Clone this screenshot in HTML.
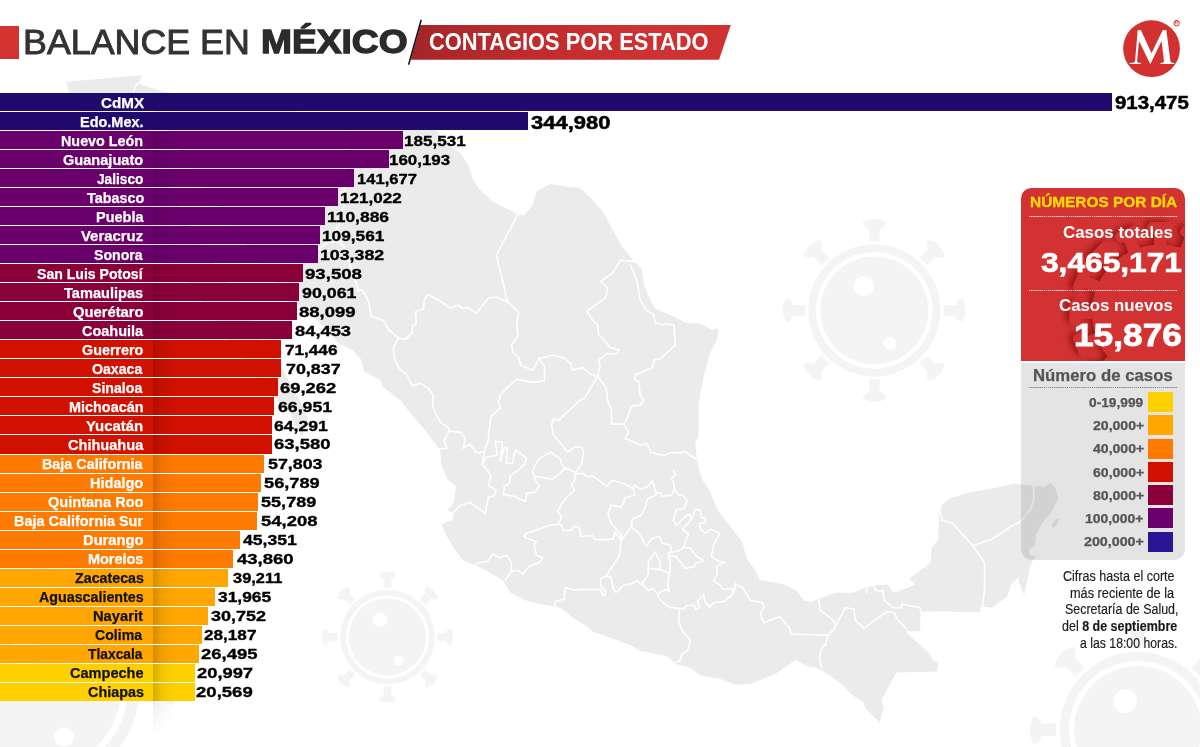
<!DOCTYPE html>
<html lang="es">
<head>
<meta charset="utf-8">
<title>Balance en México - Contagios por estado</title>
<style>
html,body{margin:0;padding:0;background:#fff;}
body{width:1200px;height:747px;position:relative;overflow:hidden;font-family:"Liberation Sans",sans-serif;}
.abs{position:absolute;}
.t{position:absolute;white-space:nowrap;line-height:1;transform-origin:0 0;}
.bar{position:absolute;left:0;height:18.1px;}
#map{position:absolute;left:0;top:0;width:1200px;height:747px;}
#shadow{position:absolute;left:153px;top:701px;width:22px;height:34px;
  background:linear-gradient(to right,rgba(0,0,0,.075),rgba(0,0,0,.03) 45%,rgba(0,0,0,0));
  -webkit-mask-image:linear-gradient(to bottom,#000 0,transparent 100%);
  mask-image:linear-gradient(to bottom,#000 0,transparent 100%);}
#redsq{position:absolute;left:0;top:26px;width:19.3px;height:32.8px;background:#d3322f;}
#banner{position:absolute;left:0;top:0;width:1200px;height:90px;}
#panelred{position:absolute;left:1021px;top:188.3px;width:164px;height:172.5px;background:#d33232;border-radius:10.5px 10.5px 0 0;overflow:hidden;}
#panelgrey{position:absolute;left:1021px;top:362.7px;width:164px;height:197.5px;background:rgba(0,0,0,.105);border-radius:0 0 11px 11px;}
.dots{position:absolute;height:1.3px;background:radial-gradient(circle at .65px .65px,rgba(255,255,255,.8) .5px,rgba(255,255,255,0) .7px) 0 0/2.1px 1.3px repeat-x;}
.sw{position:absolute;left:1147.9px;width:24.7px;height:20px;}
</style>
</head>
<body>
<svg id="map" viewBox="0 0 1200 747">
<g id="viruses" fill="#f4f4f4"><g transform="translate(874.3 310.4) scale(1)"><path fill-rule="evenodd" d="M0,-66.1A66.1,66.1 0 1 0 0,66.1A66.1,66.1 0 1 0 0,-66.1ZM0,-58.3A58.3,58.3 0 1 1 0,58.3A58.3,58.3 0 1 1 0,-58.3Z"/><path fill-rule="evenodd" d="M0,-54A54,54 0 1 0 0,54A54,54 0 1 0 0,-54ZM-0.6,-24.1A10,10 0 1 1 -20.6,-24.1A10,10 0 1 1 -0.6,-24.1ZM22.1,33A6.5,6.5 0 1 1 9.1,33A6.5,6.5 0 1 1 22.1,33Z"/><path transform="rotate(0)" d="M-5.3,-69.2L5.3,-69.2L5.3,-81Q11.5,-83.5 11.6,-88.5Q6,-91.6 0,-91.6Q-6,-91.6 -11.6,-88.5Q-11.5,-83.5 -5.3,-81Z"/><path transform="rotate(45)" d="M-5.3,-69.2L5.3,-69.2L5.3,-81Q11.5,-83.5 11.6,-88.5Q6,-91.6 0,-91.6Q-6,-91.6 -11.6,-88.5Q-11.5,-83.5 -5.3,-81Z"/><path transform="rotate(90)" d="M-5.3,-69.2L5.3,-69.2L5.3,-81Q11.5,-83.5 11.6,-88.5Q6,-91.6 0,-91.6Q-6,-91.6 -11.6,-88.5Q-11.5,-83.5 -5.3,-81Z"/><path transform="rotate(135)" d="M-5.3,-69.2L5.3,-69.2L5.3,-81Q11.5,-83.5 11.6,-88.5Q6,-91.6 0,-91.6Q-6,-91.6 -11.6,-88.5Q-11.5,-83.5 -5.3,-81Z"/><path transform="rotate(180)" d="M-5.3,-69.2L5.3,-69.2L5.3,-81Q11.5,-83.5 11.6,-88.5Q6,-91.6 0,-91.6Q-6,-91.6 -11.6,-88.5Q-11.5,-83.5 -5.3,-81Z"/><path transform="rotate(225)" d="M-5.3,-69.2L5.3,-69.2L5.3,-81Q11.5,-83.5 11.6,-88.5Q6,-91.6 0,-91.6Q-6,-91.6 -11.6,-88.5Q-11.5,-83.5 -5.3,-81Z"/><path transform="rotate(270)" d="M-5.3,-69.2L5.3,-69.2L5.3,-81Q11.5,-83.5 11.6,-88.5Q6,-91.6 0,-91.6Q-6,-91.6 -11.6,-88.5Q-11.5,-83.5 -5.3,-81Z"/><path transform="rotate(315)" d="M-5.3,-69.2L5.3,-69.2L5.3,-81Q11.5,-83.5 11.6,-88.5Q6,-91.6 0,-91.6Q-6,-91.6 -11.6,-88.5Q-11.5,-83.5 -5.3,-81Z"/></g><g transform="translate(387.5 637) scale(0.715)"><path fill-rule="evenodd" d="M0,-66.1A66.1,66.1 0 1 0 0,66.1A66.1,66.1 0 1 0 0,-66.1ZM0,-58.3A58.3,58.3 0 1 1 0,58.3A58.3,58.3 0 1 1 0,-58.3Z"/><path fill-rule="evenodd" d="M0,-54A54,54 0 1 0 0,54A54,54 0 1 0 0,-54ZM-0.6,-24.1A10,10 0 1 1 -20.6,-24.1A10,10 0 1 1 -0.6,-24.1ZM22.1,33A6.5,6.5 0 1 1 9.1,33A6.5,6.5 0 1 1 22.1,33Z"/><path transform="rotate(0)" d="M-5.3,-69.2L5.3,-69.2L5.3,-81Q11.5,-83.5 11.6,-88.5Q6,-91.6 0,-91.6Q-6,-91.6 -11.6,-88.5Q-11.5,-83.5 -5.3,-81Z"/><path transform="rotate(45)" d="M-5.3,-69.2L5.3,-69.2L5.3,-81Q11.5,-83.5 11.6,-88.5Q6,-91.6 0,-91.6Q-6,-91.6 -11.6,-88.5Q-11.5,-83.5 -5.3,-81Z"/><path transform="rotate(90)" d="M-5.3,-69.2L5.3,-69.2L5.3,-81Q11.5,-83.5 11.6,-88.5Q6,-91.6 0,-91.6Q-6,-91.6 -11.6,-88.5Q-11.5,-83.5 -5.3,-81Z"/><path transform="rotate(135)" d="M-5.3,-69.2L5.3,-69.2L5.3,-81Q11.5,-83.5 11.6,-88.5Q6,-91.6 0,-91.6Q-6,-91.6 -11.6,-88.5Q-11.5,-83.5 -5.3,-81Z"/><path transform="rotate(180)" d="M-5.3,-69.2L5.3,-69.2L5.3,-81Q11.5,-83.5 11.6,-88.5Q6,-91.6 0,-91.6Q-6,-91.6 -11.6,-88.5Q-11.5,-83.5 -5.3,-81Z"/><path transform="rotate(225)" d="M-5.3,-69.2L5.3,-69.2L5.3,-81Q11.5,-83.5 11.6,-88.5Q6,-91.6 0,-91.6Q-6,-91.6 -11.6,-88.5Q-11.5,-83.5 -5.3,-81Z"/><path transform="rotate(270)" d="M-5.3,-69.2L5.3,-69.2L5.3,-81Q11.5,-83.5 11.6,-88.5Q6,-91.6 0,-91.6Q-6,-91.6 -11.6,-88.5Q-11.5,-83.5 -5.3,-81Z"/><path transform="rotate(315)" d="M-5.3,-69.2L5.3,-69.2L5.3,-81Q11.5,-83.5 11.6,-88.5Q6,-91.6 0,-91.6Q-6,-91.6 -11.6,-88.5Q-11.5,-83.5 -5.3,-81Z"/></g><g transform="translate(1137.8 729.7) scale(1.18)"><path fill-rule="evenodd" d="M0,-66.1A66.1,66.1 0 1 0 0,66.1A66.1,66.1 0 1 0 0,-66.1ZM0,-58.3A58.3,58.3 0 1 1 0,58.3A58.3,58.3 0 1 1 0,-58.3Z"/><path fill-rule="evenodd" d="M0,-54A54,54 0 1 0 0,54A54,54 0 1 0 0,-54ZM-0.6,-24.1A10,10 0 1 1 -20.6,-24.1A10,10 0 1 1 -0.6,-24.1ZM22.1,33A6.5,6.5 0 1 1 9.1,33A6.5,6.5 0 1 1 22.1,33Z"/><path transform="rotate(0)" d="M-5.3,-69.2L5.3,-69.2L5.3,-81Q11.5,-83.5 11.6,-88.5Q6,-91.6 0,-91.6Q-6,-91.6 -11.6,-88.5Q-11.5,-83.5 -5.3,-81Z"/><path transform="rotate(45)" d="M-5.3,-69.2L5.3,-69.2L5.3,-81Q11.5,-83.5 11.6,-88.5Q6,-91.6 0,-91.6Q-6,-91.6 -11.6,-88.5Q-11.5,-83.5 -5.3,-81Z"/><path transform="rotate(90)" d="M-5.3,-69.2L5.3,-69.2L5.3,-81Q11.5,-83.5 11.6,-88.5Q6,-91.6 0,-91.6Q-6,-91.6 -11.6,-88.5Q-11.5,-83.5 -5.3,-81Z"/><path transform="rotate(135)" d="M-5.3,-69.2L5.3,-69.2L5.3,-81Q11.5,-83.5 11.6,-88.5Q6,-91.6 0,-91.6Q-6,-91.6 -11.6,-88.5Q-11.5,-83.5 -5.3,-81Z"/><path transform="rotate(180)" d="M-5.3,-69.2L5.3,-69.2L5.3,-81Q11.5,-83.5 11.6,-88.5Q6,-91.6 0,-91.6Q-6,-91.6 -11.6,-88.5Q-11.5,-83.5 -5.3,-81Z"/><path transform="rotate(225)" d="M-5.3,-69.2L5.3,-69.2L5.3,-81Q11.5,-83.5 11.6,-88.5Q6,-91.6 0,-91.6Q-6,-91.6 -11.6,-88.5Q-11.5,-83.5 -5.3,-81Z"/><path transform="rotate(270)" d="M-5.3,-69.2L5.3,-69.2L5.3,-81Q11.5,-83.5 11.6,-88.5Q6,-91.6 0,-91.6Q-6,-91.6 -11.6,-88.5Q-11.5,-83.5 -5.3,-81Z"/><path transform="rotate(315)" d="M-5.3,-69.2L5.3,-69.2L5.3,-81Q11.5,-83.5 11.6,-88.5Q6,-91.6 0,-91.6Q-6,-91.6 -11.6,-88.5Q-11.5,-83.5 -5.3,-81Z"/></g><g transform="translate(40.6 687.5) scale(1.5)"><path fill-rule="evenodd" d="M0,-66.1A66.1,66.1 0 1 0 0,66.1A66.1,66.1 0 1 0 0,-66.1ZM0,-58.3A58.3,58.3 0 1 1 0,58.3A58.3,58.3 0 1 1 0,-58.3Z"/><path fill-rule="evenodd" d="M0,-54A54,54 0 1 0 0,54A54,54 0 1 0 0,-54ZM-0.6,-24.1A10,10 0 1 1 -20.6,-24.1A10,10 0 1 1 -0.6,-24.1ZM22.1,33A6.5,6.5 0 1 1 9.1,33A6.5,6.5 0 1 1 22.1,33Z"/><path transform="rotate(0)" d="M-5.3,-69.2L5.3,-69.2L5.3,-81Q11.5,-83.5 11.6,-88.5Q6,-91.6 0,-91.6Q-6,-91.6 -11.6,-88.5Q-11.5,-83.5 -5.3,-81Z"/><path transform="rotate(45)" d="M-5.3,-69.2L5.3,-69.2L5.3,-81Q11.5,-83.5 11.6,-88.5Q6,-91.6 0,-91.6Q-6,-91.6 -11.6,-88.5Q-11.5,-83.5 -5.3,-81Z"/><path transform="rotate(90)" d="M-5.3,-69.2L5.3,-69.2L5.3,-81Q11.5,-83.5 11.6,-88.5Q6,-91.6 0,-91.6Q-6,-91.6 -11.6,-88.5Q-11.5,-83.5 -5.3,-81Z"/><path transform="rotate(135)" d="M-5.3,-69.2L5.3,-69.2L5.3,-81Q11.5,-83.5 11.6,-88.5Q6,-91.6 0,-91.6Q-6,-91.6 -11.6,-88.5Q-11.5,-83.5 -5.3,-81Z"/><path transform="rotate(180)" d="M-5.3,-69.2L5.3,-69.2L5.3,-81Q11.5,-83.5 11.6,-88.5Q6,-91.6 0,-91.6Q-6,-91.6 -11.6,-88.5Q-11.5,-83.5 -5.3,-81Z"/><path transform="rotate(225)" d="M-5.3,-69.2L5.3,-69.2L5.3,-81Q11.5,-83.5 11.6,-88.5Q6,-91.6 0,-91.6Q-6,-91.6 -11.6,-88.5Q-11.5,-83.5 -5.3,-81Z"/><path transform="rotate(270)" d="M-5.3,-69.2L5.3,-69.2L5.3,-81Q11.5,-83.5 11.6,-88.5Q6,-91.6 0,-91.6Q-6,-91.6 -11.6,-88.5Q-11.5,-83.5 -5.3,-81Z"/><path transform="rotate(315)" d="M-5.3,-69.2L5.3,-69.2L5.3,-81Q11.5,-83.5 11.6,-88.5Q6,-91.6 0,-91.6Q-6,-91.6 -11.6,-88.5Q-11.5,-83.5 -5.3,-81Z"/></g></g>
<polygon points="65.8,81.7 142.0,75.3 140.0,80.8 137.0,83.3 164.0,91.7 300.0,112.0 434.0,128.0 450.3,147.1 460.3,153.1 465.3,160.2 468.9,166.3 472.6,178.8 480.1,190.1 492.7,201.4 507.7,208.9 517.7,214.7 524.0,215.2 532.7,205.1 536.5,191.4 550.3,183.9 565.3,186.4 579.1,187.6 590.3,197.6 602.9,211.4 612.9,230.2 622.9,247.7 634.2,261.5 641.7,269.0 644.2,285.3 650.4,300.3 655.2,308.8 667.7,313.8 685.2,322.5 700.2,323.8 712.8,330.0 718.3,328.0 717.8,337.6 710.3,352.6 704.0,375.1 700.2,395.2 698.5,405.2 698.5,425.2 698.5,436.5 695.2,442.8 696.5,455.3 699.0,470.3 702.5,480.0 710.0,491.3 717.6,510.0 730.1,526.3 742.6,542.6 746.4,557.7 755.1,570.2 760.1,580.2 782.7,584.0 796.5,590.2 804.0,600.2 810.2,602.0 835.3,592.7 852.8,592.7 865.3,587.7 875.3,585.2 887.9,584.4 892.9,592.7 905.4,589.0 915.4,584.0 909.2,579.0 920.4,570.2 930.4,562.7 931.7,547.6 938.0,540.1 939.2,515.1 941.8,505.0 949.3,498.5 970.7,492.1 996.4,487.8 1015.6,483.6 1033.8,486.1 1045.6,486.8 1049.9,482.5 1055.2,487.8 1058.0,498.5 1052.0,511.4 1041.3,524.2 1036.0,534.9 1034.9,545.7 1028.5,549.9 1030.6,555.3 1037.0,556.4 1032.8,560.6 1030.6,564.9 1028.5,573.5 1024.2,594.9 1018.8,582.0 1018.8,576.7 1011.3,584.2 1007.0,597.0 992.0,607.8 982.4,606.7 980.7,606.3 980.2,612.1 920.6,611.3 920.1,631.3 906.3,631.3 907.6,633.8 920.1,645.1 930.1,653.9 932.6,660.1 938.1,662.6 937.6,671.4 896.3,672.6 881.3,700.2 883.8,707.7 881.3,715.2 880.0,722.7 865.0,707.7 863.8,702.7 852.5,695.2 843.0,685.2 828.0,674.0 815.5,667.2 807.9,666.4 795.4,660.2 787.9,665.2 775.4,674.0 750.3,684.0 735.3,684.5 720.3,679.0 700.2,675.2 690.2,667.7 675.2,663.9 667.7,656.4 640.1,650.7 627.6,643.9 592.6,631.4 587.8,627.0 572.8,617.8 560.3,607.8 540.2,604.0 525.2,600.3 510.2,592.8 502.7,580.2 487.7,571.5 475.1,565.2 462.6,560.2 453.8,547.7 446.3,535.2 441.3,523.9 452.6,520.1 453.8,513.9 447.6,510.1 453.8,502.6 456.3,486.3 447.6,480.1 441.3,465.0 440.1,450.0 432.6,440.0 425.2,430.2 410.2,412.7 400.2,400.2 382.6,386.4 380.1,380.1 363.9,371.4 361.4,360.1 352.6,350.1 337.6,342.6 317.0,320.0 290.0,300.0 250.0,250.0 200.0,180.0 160.0,120.0 140.0,95.0 150.0,150.0 170.0,190.0 190.0,230.0 215.0,265.0 240.0,300.0 258.0,335.0 280.0,365.0 297.0,395.0 308.0,418.0 302.0,437.0 289.0,412.0 262.0,385.0 240.0,355.0 215.0,320.0 190.0,285.0 150.0,250.0 140.0,215.0 110.0,180.0 100.0,140.0 72.0,100.0" fill="#ebebeb"/>
<ellipse cx="1055.2" cy="523.2" rx="2" ry="5" transform="rotate(35 1055.2 523.2)" fill="#ebebeb"/>
<g fill="none" stroke="#fff" stroke-width="1.6" stroke-linejoin="round" stroke-linecap="round">
<polyline points="137.0,83.3 133.3,91.7"/>
<polyline points="346.0,128.0 345.0,150.0 344.6,187.8 343.5,206.0 339.3,224.2 333.0,236.0 327.5,242.4 338.2,241.4 343.5,245.7 352.1,271.3 358.5,290.6 362.1,290.0"/>
<polyline points="327.5,242.4 318.0,250.0 305.0,262.0"/>
<polyline points="517.7,214.7 496.4,255.2 504.7,290.0 507.7,302.0"/>
<polyline points="362.1,290.0 368.2,300.0 371.2,316.1 384.2,321.1 388.2,329.2 398.3,338.2 405.3,339.2"/>
<polyline points="405.3,339.2 412.3,333.2 412.3,326.1 416.3,323.1 415.3,312.1 423.4,309.1 424.4,299.0 428.4,294.4 438.4,300.0 450.5,308.1 458.5,305.1 461.5,308.1 468.6,308.1 476.6,313.1 488.6,298.0 496.7,297.0 507.7,302.0"/>
<polyline points="507.7,302.0 518.8,312.1 516.7,324.1 517.8,336.2 511.7,344.2 512.7,352.2 518.8,358.3 520.8,365.3 532.8,370.3 538.8,358.3 552.9,355.3 564.9,358.3 570.0,363.3 571.3,365.1 572.5,370.1 582.5,367.6 590.1,373.9 597.6,376.4"/>
<polyline points="538.8,358.3 544.5,366.3 544.5,380.4 534.8,382.4 516.7,379.4 508.7,386.4 500.7,394.4 498.3,402.4 500.3,408.0 491.3,416.1 489.3,428.1 488.3,440.2 484.3,451.2 482.2,464.3"/>
<polyline points="398.3,338.2 393.3,348.2 394.3,358.3 399.3,368.3 406.3,374.3 412.3,385.4 420.4,383.4 428.4,388.4 433.4,395.4 432.4,404.5 435.1,412.0 440.1,422.1 449.1,428.1 449.1,431.1"/>
<polyline points="449.1,431.1 460.2,432.1 465.2,438.2 463.2,448.2 470.2,444.2 475.2,451.2 479.2,453.2 484.3,451.2"/>
<polyline points="449.1,431.1 444.1,440.2 447.1,448.2 440.1,449.2"/>
<polyline points="482.2,464.3 491.3,475.3 488.3,485.3 496.3,490.4 494.3,495.4 488.3,497.4 485.3,513.5 470.2,502.4 460.2,505.4 453.1,512.4"/>
<polyline points="482.2,464.3 486.3,457.2 497.3,455.2 495.3,441.2 502.3,442.2 500.3,461.2 504.3,447.2 507.3,448.2 506.3,463.3 512.4,463.3 515.4,449.8 526.4,458.2 524.4,464.3 519.4,469.3 510.4,475.3 509.4,483.3 504.3,486.3 503.3,494.4 514.4,496.4 525.4,501.4 526.4,493.4 534.5,492.4 539.5,486.3 535.5,480.3 534.5,476.3"/>
<polyline points="534.5,476.3 532.4,471.3 538.5,459.2 550.5,452.2 560.6,459.2 561.6,464.3 565.6,468.3 552.5,479.3 540.5,477.3 534.5,476.3"/>
<polyline points="560.0,419.0 558.6,420.1 553.5,419.1 551.5,425.1 553.5,435.1 560.6,443.2 567.6,452.2 574.6,447.2 581.6,447.2 583.7,452.2 581.6,464.3 575.6,472.3 565.6,468.3"/>
<polyline points="575.6,472.3 574.6,480.3 571.6,484.3 574.6,490.4 568.6,495.4 562.6,502.4 557.6,511.4 561.6,517.5 557.6,524.5"/>
<polyline points="575.6,474.3 583.7,473.3 585.7,476.3 593.7,476.3 606.7,486.3 611.8,480.3 622.8,483.3 632.9,488.4 633.2,488.1 634.2,485.1 640.2,489.1 647.3,487.1 652.3,481.0 656.3,493.1 660.3,493.1 662.3,496.1 671.4,495.1 674.4,489.1 673.4,482.0 671.4,479.0 675.4,475.0 673.4,470.0"/>
<polyline points="524.4,536.5 526.4,533.5 540.5,528.5 548.5,525.5 557.6,524.5 560.6,524.5 563.6,530.5 571.6,530.5 573.6,526.5 579.6,527.5 580.6,536.5 592.7,535.5 594.7,539.6 607.8,539.6 613.8,538.6 614.8,531.5 615.1,532.2 621.2,540.3"/>
<polyline points="633.2,488.1 635.2,495.1 625.2,498.1 621.2,507.1 611.1,505.1 608.1,513.2 611.1,523.2 617.1,530.2 621.2,534.3 621.2,540.3"/>
<polyline points="656.3,495.1 647.3,499.1 645.3,507.1 641.2,515.2 632.2,519.2 631.2,527.2 621.2,540.3"/>
<polyline points="674.4,489.1 678.4,495.1 682.4,495.1 687.4,501.1 683.4,509.2 676.4,509.2 673.4,520.2 676.4,525.2 684.4,517.2 689.4,514.2 691.4,519.2 682.4,529.2 688.4,534.3 683.4,547.3"/>
<polyline points="691.4,519.2 695.5,509.2 700.5,510.2 701.5,517.2 706.5,519.2 704.5,523.2 699.5,523.2 700.5,529.2 705.5,533.3 710.5,529.2 719.6,533.3 713.5,545.3 711.5,556.3 718.6,561.4 724.6,562.4 716.5,566.4 717.6,574.4 713.5,580.4 720.6,585.5 722.6,589.5 731.6,588.5 733.6,592.5 735.6,583.5"/>
<polyline points="621.2,540.3 619.2,556.3 615.1,562.4 606.1,576.4 601.1,578.4 600.1,584.5 605.1,590.5 605.1,595.5 602.1,594.5 601.1,589.5 594.1,589.5 580.0,589.5 575.3,590.3 565.3,587.8 564.0,599.0 555.3,601.5 555.3,606.5"/>
<polyline points="606.1,576.4 611.1,577.4 613.1,588.5 616.1,592.5 623.2,585.5 632.2,583.5 637.2,580.4 642.2,585.5"/>
<polyline points="631.2,527.2 639.2,533.3 646.3,546.3 652.3,538.3 659.3,536.3 662.3,543.3 670.4,545.3 671.4,551.3 668.4,553.3"/>
<polyline points="655.3,552.3 648.3,561.4 648.3,568.4 660.3,569.4 660.3,562.4 655.3,552.3"/>
<polyline points="648.3,568.4 648.3,574.4 642.2,583.5 648.3,590.5 652.3,588.5 657.3,593.5 666.3,589.5 669.4,591.5 667.3,583.5 669.4,575.4 668.4,572.4 660.3,569.4"/>
<polyline points="668.4,553.3 670.4,564.4 669.4,575.4"/>
<polyline points="668.4,553.3 680.4,550.3 683.4,547.3 690.4,548.3 696.5,556.3 703.5,560.4 695.5,563.4 694.5,566.4 685.4,568.4 678.4,559.4 675.4,556.3 668.4,556.3"/>
<polyline points="657.3,593.5 659.3,598.5 664.3,603.5 670.4,607.6 679.4,608.6 684.4,608.6 686.4,605.5 694.5,605.5 695.5,609.6 699.5,607.6 697.5,601.5 703.5,594.5 704.5,600.5 709.5,607.6 713.5,602.5 723.6,601.5 731.6,595.5 735.6,587.5"/>
<polyline points="679.4,608.6 679.0,622.6 682.7,631.4 690.2,640.1 687.7,650.2 681.5,655.2 680.2,660.2 675.2,662.7"/>
<polyline points="735.1,584.0 742.6,587.7 750.1,600.2 762.6,602.7 763.9,607.7 760.1,614.0 763.9,622.8 780.2,616.5 782.7,620.3 790.2,629.0 790.2,634.0 827.8,635.3"/>
<polyline points="828.0,635.1 825.5,645.1 821.7,647.7 819.2,657.7 821.7,667.7"/>
<polyline points="819.0,600.2 820.2,610.2 830.3,617.8 835.3,622.8 834.0,629.0 827.8,635.3"/>
<polyline points="834.0,629.0 845.3,607.7 854.0,609.0 855.3,620.3 864.1,628.3 877.8,617.8 887.9,611.5 894.1,612.7 897.9,620.3 904.1,626.5 907.9,631.5"/>
<polyline points="882.9,589.0 884.1,600.2 892.9,607.7 901.6,607.7 901.6,604.0 920.4,607.7 920.6,611.3"/>
<polyline points="874.1,585.2 875.3,590.2 882.9,591.5"/>
<polyline points="866.6,586.5 866.6,592.7"/>
<polyline points="475.1,565.2 478.9,562.7 487.7,561.5 492.7,554.0 500.2,557.7 506.4,555.2 511.4,562.7 511.4,571.5 505.2,580.2"/>
<polyline points="511.4,571.5 517.7,570.2 522.7,574.0 529.0,566.5 539.0,562.7 542.8,557.7 536.5,555.2 534.0,543.9 536.5,541.4 525.2,537.7 525.2,533.9 524.4,536.5"/>
<polyline points="634.2,261.5 620.4,260.2 612.9,272.8 600.4,281.5 607.9,287.8 605.4,297.8 586.6,311.3 592.6,320.0 597.6,325.0 598.8,335.1 606.3,342.6 610.1,347.6 618.9,350.1 616.3,353.8 606.3,353.8 598.8,360.1 600.1,365.1 597.6,376.4"/>
<polyline points="630.4,265.2 636.7,280.3 640.4,300.3 646.4,310.0 653.9,315.0 655.2,322.5 662.7,325.0 665.2,323.8 674.0,325.0 675.2,345.1 660.2,358.9 653.9,360.1 652.7,367.6 635.1,375.1 635.1,380.1 638.9,381.4 640.1,395.2 643.9,400.2 640.1,405.2 631.4,406.4 627.6,417.7 623.8,424.1"/>
<polyline points="597.6,376.4 606.3,387.7 607.6,400.2 611.3,410.2 611.8,424.1 623.8,424.1 628.8,432.1 624.8,438.2 640.9,445.2 646.9,443.2 650.9,452.2 663.9,455.8 670.2,452.8 680.2,452.8 685.2,451.5 690.2,455.3 696.5,459.0"/>
<polyline points="597.6,376.4 585.0,397.7 580.6,400.0 569.6,410.0 558.6,420.1"/>
<polyline points="940.7,512.5 941.8,520.0 952.5,523.2 972.8,545.7"/>
<polyline points="972.8,545.7 992.0,539.2 1011.3,526.4 1019.9,522.1 1030.6,509.3 1033.8,498.5 1033.8,486.1"/>
<polyline points="972.8,545.7 984.6,562.8 984.6,588.5 982.4,606.7"/>
</g>
</svg>
<div class="bar" style="top:93px;height:18.1px;width:1112.3px;background:linear-gradient(to right,rgba(0,0,0,0) 153px,rgba(0,0,0,0.06) 153px,rgba(0,0,0,0.021) 161px,rgba(0,0,0,0) 175px),#200a6e"></div>
<div class="bar" style="top:112px;height:18.1px;width:528.0px;background:linear-gradient(to right,rgba(0,0,0,0) 153px,rgba(0,0,0,0.06) 153px,rgba(0,0,0,0.021) 161px,rgba(0,0,0,0) 175px),#200a6e"></div>
<div class="bar" style="top:131px;height:18.1px;width:403.3px;background:linear-gradient(to right,rgba(0,0,0,0) 153px,rgba(0,0,0,0.09) 153px,rgba(0,0,0,0.032) 161px,rgba(0,0,0,0) 175px),#69006b"></div>
<div class="bar" style="top:150px;height:18.1px;width:389.0px;background:linear-gradient(to right,rgba(0,0,0,0) 153px,rgba(0,0,0,0.09) 153px,rgba(0,0,0,0.032) 161px,rgba(0,0,0,0) 175px),#69006b"></div>
<div class="bar" style="top:169px;height:18.1px;width:354.1px;background:linear-gradient(to right,rgba(0,0,0,0) 153px,rgba(0,0,0,0.09) 153px,rgba(0,0,0,0.032) 161px,rgba(0,0,0,0) 175px),#69006b"></div>
<div class="bar" style="top:188px;height:18.1px;width:338.2px;background:linear-gradient(to right,rgba(0,0,0,0) 153px,rgba(0,0,0,0.09) 153px,rgba(0,0,0,0.032) 161px,rgba(0,0,0,0) 175px),#69006b"></div>
<div class="bar" style="top:207px;height:18.1px;width:325.0px;background:linear-gradient(to right,rgba(0,0,0,0) 153px,rgba(0,0,0,0.09) 153px,rgba(0,0,0,0.032) 161px,rgba(0,0,0,0) 175px),#69006b"></div>
<div class="bar" style="top:226px;height:18.1px;width:320.2px;background:linear-gradient(to right,rgba(0,0,0,0) 153px,rgba(0,0,0,0.09) 153px,rgba(0,0,0,0.032) 161px,rgba(0,0,0,0) 175px),#69006b"></div>
<div class="bar" style="top:245px;height:18.1px;width:318.0px;background:linear-gradient(to right,rgba(0,0,0,0) 153px,rgba(0,0,0,0.09) 153px,rgba(0,0,0,0.032) 161px,rgba(0,0,0,0) 175px),#69006b"></div>
<div class="bar" style="top:264px;height:18.1px;width:303.1px;background:linear-gradient(to right,rgba(0,0,0,0) 153px,rgba(0,0,0,0.12) 153px,rgba(0,0,0,0.042) 161px,rgba(0,0,0,0) 175px),#8a0038"></div>
<div class="bar" style="top:283px;height:18.1px;width:298.8px;background:linear-gradient(to right,rgba(0,0,0,0) 153px,rgba(0,0,0,0.12) 153px,rgba(0,0,0,0.042) 161px,rgba(0,0,0,0) 175px),#8a0038"></div>
<div class="bar" style="top:302px;height:18.1px;width:296.8px;background:linear-gradient(to right,rgba(0,0,0,0) 153px,rgba(0,0,0,0.12) 153px,rgba(0,0,0,0.042) 161px,rgba(0,0,0,0) 175px),#8a0038"></div>
<div class="bar" style="top:321px;height:18.1px;width:292.0px;background:linear-gradient(to right,rgba(0,0,0,0) 153px,rgba(0,0,0,0.12) 153px,rgba(0,0,0,0.042) 161px,rgba(0,0,0,0) 175px),#8a0038"></div>
<div class="bar" style="top:340px;height:18.1px;width:281.2px;background:linear-gradient(to right,rgba(0,0,0,0) 153px,rgba(0,0,0,0.17) 153px,rgba(0,0,0,0.059) 161px,rgba(0,0,0,0) 175px),#d01100"></div>
<div class="bar" style="top:359px;height:18.1px;width:281.2px;background:linear-gradient(to right,rgba(0,0,0,0) 153px,rgba(0,0,0,0.17) 153px,rgba(0,0,0,0.059) 161px,rgba(0,0,0,0) 175px),#d01100"></div>
<div class="bar" style="top:378px;height:18.1px;width:277.8px;background:linear-gradient(to right,rgba(0,0,0,0) 153px,rgba(0,0,0,0.17) 153px,rgba(0,0,0,0.059) 161px,rgba(0,0,0,0) 175px),#d01100"></div>
<div class="bar" style="top:397px;height:18.1px;width:273.8px;background:linear-gradient(to right,rgba(0,0,0,0) 153px,rgba(0,0,0,0.17) 153px,rgba(0,0,0,0.059) 161px,rgba(0,0,0,0) 175px),#d01100"></div>
<div class="bar" style="top:416px;height:18.1px;width:272.0px;background:linear-gradient(to right,rgba(0,0,0,0) 153px,rgba(0,0,0,0.17) 153px,rgba(0,0,0,0.059) 161px,rgba(0,0,0,0) 175px),#d01100"></div>
<div class="bar" style="top:435px;height:19.1px;width:271.9px;background:linear-gradient(to right,rgba(0,0,0,0) 153px,rgba(0,0,0,0.17) 153px,rgba(0,0,0,0.059) 161px,rgba(0,0,0,0) 175px),#d01100"></div>
<div class="bar" style="top:455px;height:18.1px;width:263.9px;background:linear-gradient(to right,rgba(0,0,0,0) 153px,rgba(0,0,0,0.17) 153px,rgba(0,0,0,0.059) 161px,rgba(0,0,0,0) 175px),#ff7a00"></div>
<div class="bar" style="top:474px;height:18.1px;width:261.0px;background:linear-gradient(to right,rgba(0,0,0,0) 153px,rgba(0,0,0,0.17) 153px,rgba(0,0,0,0.059) 161px,rgba(0,0,0,0) 175px),#ff7a00"></div>
<div class="bar" style="top:493px;height:18.1px;width:258.0px;background:linear-gradient(to right,rgba(0,0,0,0) 153px,rgba(0,0,0,0.17) 153px,rgba(0,0,0,0.059) 161px,rgba(0,0,0,0) 175px),#ff7a00"></div>
<div class="bar" style="top:512px;height:18.1px;width:256.8px;background:linear-gradient(to right,rgba(0,0,0,0) 153px,rgba(0,0,0,0.17) 153px,rgba(0,0,0,0.059) 161px,rgba(0,0,0,0) 175px),#ff7a00"></div>
<div class="bar" style="top:531px;height:18.1px;width:239.8px;background:linear-gradient(to right,rgba(0,0,0,0) 153px,rgba(0,0,0,0.17) 153px,rgba(0,0,0,0.059) 161px,rgba(0,0,0,0) 175px),#ff7a00"></div>
<div class="bar" style="top:550px;height:18.1px;width:232.9px;background:linear-gradient(to right,rgba(0,0,0,0) 153px,rgba(0,0,0,0.17) 153px,rgba(0,0,0,0.059) 161px,rgba(0,0,0,0) 175px),#ff7a00"></div>
<div class="bar" style="top:569px;height:18.1px;width:228.0px;background:linear-gradient(to right,rgba(0,0,0,0) 153px,rgba(0,0,0,0.17) 153px,rgba(0,0,0,0.059) 161px,rgba(0,0,0,0) 175px),#ffa700"></div>
<div class="bar" style="top:588px;height:18.1px;width:214.8px;background:linear-gradient(to right,rgba(0,0,0,0) 153px,rgba(0,0,0,0.17) 153px,rgba(0,0,0,0.059) 161px,rgba(0,0,0,0) 175px),#ffa700"></div>
<div class="bar" style="top:607px;height:18.1px;width:207.6px;background:linear-gradient(to right,rgba(0,0,0,0) 153px,rgba(0,0,0,0.17) 153px,rgba(0,0,0,0.059) 161px,rgba(0,0,0,0) 175px),#ffa700"></div>
<div class="bar" style="top:626px;height:18.1px;width:202.4px;background:linear-gradient(to right,rgba(0,0,0,0) 153px,rgba(0,0,0,0.17) 153px,rgba(0,0,0,0.059) 161px,rgba(0,0,0,0) 175px),#ffa700"></div>
<div class="bar" style="top:645px;height:18.1px;width:198.8px;background:linear-gradient(to right,rgba(0,0,0,0) 153px,rgba(0,0,0,0.17) 153px,rgba(0,0,0,0.059) 161px,rgba(0,0,0,0) 175px),#ffa700"></div>
<div class="bar" style="top:664px;height:18.1px;width:194.9px;background:linear-gradient(to right,rgba(0,0,0,0) 153px,rgba(0,0,0,0.17) 153px,rgba(0,0,0,0.059) 161px,rgba(0,0,0,0) 175px),#ffd000"></div>
<div class="bar" style="top:683px;height:18.1px;width:194.9px;background:linear-gradient(to right,rgba(0,0,0,0) 153px,rgba(0,0,0,0.17) 153px,rgba(0,0,0,0.059) 161px,rgba(0,0,0,0) 175px),#ffd000"></div>
<div id="shadow"></div>
<div id="redsq"></div>
<svg id="banner" viewBox="0 0 1200 90">
  <defs><linearGradient id="bg" x1="0" x2="1" y1="0" y2="0"><stop offset="0" stop-color="#a42528"/><stop offset=".4" stop-color="#c12c2e"/><stop offset=".7" stop-color="#cd3131"/><stop offset="1" stop-color="#d03232"/></linearGradient></defs>
  <polygon points="420.3,24.9 730.8,24.9 719,59.8 410.7,59.8" fill="url(#bg)"/>
  <line x1="421.2" y1="19.8" x2="408.6" y2="64.8" stroke="#111" stroke-width="1.5"/>
  <circle cx="1151.55" cy="48.7" r="28.4" fill="#d33030"/>
  <polygon fill="#fff" points="1137.7,30.0 1140.9,30.0 1151.5,53.3 1162.8,30.0 1166.3,30.0 1170.5,61.8 1172.2,62.7 1174.4,62.9 1174.4,63.9 1160.5,63.9 1160.5,62.9 1162.6,62.7 1164.0,61.8 1161.6,41.1 1150.3,64.2 1139.0,41.1 1137.0,61.8 1138.7,62.7 1140.9,62.9 1140.9,63.9 1129.6,63.9 1129.6,62.9 1133.1,62.7 1135.0,61.8"/>
  <circle cx="1176.6" cy="23.3" r="2.7" fill="none" stroke="#d33030" stroke-width="1"/>
</svg>
<div id="panelred"><svg width="164" height="172.5" viewBox="0 0 164 172.5" style="position:absolute;left:0;top:0">
<defs><filter id="emb" x="-20%" y="-20%" width="140%" height="140%"><feDropShadow dx="-4" dy="-1.5" stdDeviation="3.2" flood-color="#700000" flood-opacity=".6"/></filter></defs>
<g transform="translate(139 124.69999999999999) rotate(0) scale(1.0)" fill="#d33232" filter="url(#emb)"><circle r="68"/><path transform="rotate(0.0)" d="M-6,-66L6,-66L6,-79Q12.5,-80 12.5,-85Q12.5,-90.5 7,-90.5L-7,-90.5Q-12.5,-90.5 -12.5,-85Q-12.5,-80 -6,-79Z"/><path transform="rotate(22.5)" d="M-6,-66L6,-66L6,-79Q12.5,-80 12.5,-85Q12.5,-90.5 7,-90.5L-7,-90.5Q-12.5,-90.5 -12.5,-85Q-12.5,-80 -6,-79Z"/><path transform="rotate(45.0)" d="M-6,-66L6,-66L6,-79Q12.5,-80 12.5,-85Q12.5,-90.5 7,-90.5L-7,-90.5Q-12.5,-90.5 -12.5,-85Q-12.5,-80 -6,-79Z"/><path transform="rotate(67.5)" d="M-6,-66L6,-66L6,-79Q12.5,-80 12.5,-85Q12.5,-90.5 7,-90.5L-7,-90.5Q-12.5,-90.5 -12.5,-85Q-12.5,-80 -6,-79Z"/><path transform="rotate(90.0)" d="M-6,-66L6,-66L6,-79Q12.5,-80 12.5,-85Q12.5,-90.5 7,-90.5L-7,-90.5Q-12.5,-90.5 -12.5,-85Q-12.5,-80 -6,-79Z"/><path transform="rotate(112.5)" d="M-6,-66L6,-66L6,-79Q12.5,-80 12.5,-85Q12.5,-90.5 7,-90.5L-7,-90.5Q-12.5,-90.5 -12.5,-85Q-12.5,-80 -6,-79Z"/><path transform="rotate(135.0)" d="M-6,-66L6,-66L6,-79Q12.5,-80 12.5,-85Q12.5,-90.5 7,-90.5L-7,-90.5Q-12.5,-90.5 -12.5,-85Q-12.5,-80 -6,-79Z"/><path transform="rotate(157.5)" d="M-6,-66L6,-66L6,-79Q12.5,-80 12.5,-85Q12.5,-90.5 7,-90.5L-7,-90.5Q-12.5,-90.5 -12.5,-85Q-12.5,-80 -6,-79Z"/><path transform="rotate(180.0)" d="M-6,-66L6,-66L6,-79Q12.5,-80 12.5,-85Q12.5,-90.5 7,-90.5L-7,-90.5Q-12.5,-90.5 -12.5,-85Q-12.5,-80 -6,-79Z"/><path transform="rotate(202.5)" d="M-6,-66L6,-66L6,-79Q12.5,-80 12.5,-85Q12.5,-90.5 7,-90.5L-7,-90.5Q-12.5,-90.5 -12.5,-85Q-12.5,-80 -6,-79Z"/><path transform="rotate(225.0)" d="M-6,-66L6,-66L6,-79Q12.5,-80 12.5,-85Q12.5,-90.5 7,-90.5L-7,-90.5Q-12.5,-90.5 -12.5,-85Q-12.5,-80 -6,-79Z"/><path transform="rotate(247.5)" d="M-6,-66L6,-66L6,-79Q12.5,-80 12.5,-85Q12.5,-90.5 7,-90.5L-7,-90.5Q-12.5,-90.5 -12.5,-85Q-12.5,-80 -6,-79Z"/><path transform="rotate(270.0)" d="M-6,-66L6,-66L6,-79Q12.5,-80 12.5,-85Q12.5,-90.5 7,-90.5L-7,-90.5Q-12.5,-90.5 -12.5,-85Q-12.5,-80 -6,-79Z"/><path transform="rotate(292.5)" d="M-6,-66L6,-66L6,-79Q12.5,-80 12.5,-85Q12.5,-90.5 7,-90.5L-7,-90.5Q-12.5,-90.5 -12.5,-85Q-12.5,-80 -6,-79Z"/><path transform="rotate(315.0)" d="M-6,-66L6,-66L6,-79Q12.5,-80 12.5,-85Q12.5,-90.5 7,-90.5L-7,-90.5Q-12.5,-90.5 -12.5,-85Q-12.5,-80 -6,-79Z"/><path transform="rotate(337.5)" d="M-6,-66L6,-66L6,-79Q12.5,-80 12.5,-85Q12.5,-90.5 7,-90.5L-7,-90.5Q-12.5,-90.5 -12.5,-85Q-12.5,-80 -6,-79Z"/></g>
</svg></div>
<div id="panelgrey"></div>
<div class="dots" style="left:1028.8px;top:215.7px;width:148.5px"></div>
<div class="dots" style="left:1028.8px;top:289.6px;width:148.5px"></div>
<div class="dots" style="left:1028.8px;top:386.8px;width:148.5px;background-image:radial-gradient(circle at .65px .65px,rgba(90,90,90,.65) .5px,rgba(90,90,90,0) .7px)"></div>
<div class="sw" style="top:391.9px;background:#ffd000"></div>
<div class="sw" style="top:415.2px;background:#ffa700"></div>
<div class="sw" style="top:438.5px;background:#ff7a00"></div>
<div class="sw" style="top:461.8px;background:#d01100"></div>
<div class="sw" style="top:485.1px;background:#8a0038"></div>
<div class="sw" style="top:508.4px;background:#69006b"></div>
<div class="sw" style="top:531.7px;background:#2c1594"></div>
<div class="t" style="left:100.77px;top:95.76px;color:#fff;font-family:'Liberation Sans',sans-serif;font-size:14.8px;font-weight:700;-webkit-text-stroke:.25px #fff;transform:scaleX(1.0275)">CdMX</div>
<div class="t" style="left:1115.00px;top:93.62px;color:#000;font-family:'Liberation Sans',sans-serif;font-size:18.4px;font-weight:700;-webkit-text-stroke:.5px #000;transform:scaleX(1.1106)">913,475</div>
<div class="t" style="left:80.32px;top:114.75px;color:#fff;font-family:'Liberation Sans',sans-serif;font-size:14.8px;font-weight:700;-webkit-text-stroke:.25px #fff;transform:scaleX(0.9778)">Edo.Mex.</div>
<div class="t" style="left:531.00px;top:113.62px;color:#000;font-family:'Liberation Sans',sans-serif;font-size:18.4px;font-weight:700;-webkit-text-stroke:.5px #000;transform:scaleX(1.1939)">344,980</div>
<div class="t" style="left:61.43px;top:133.74px;color:#fff;font-family:'Liberation Sans',sans-serif;font-size:14.8px;font-weight:700;-webkit-text-stroke:.25px #fff;transform:scaleX(0.9699)">Nuevo León</div>
<div class="t" style="left:404.37px;top:133.13px;color:#000;font-family:'Liberation Sans',sans-serif;font-size:15.2px;font-weight:700;-webkit-text-stroke:.35px #000;transform:scaleX(1.1259)">185,531</div>
<div class="t" style="left:63.11px;top:152.73px;color:#fff;font-family:'Liberation Sans',sans-serif;font-size:14.8px;font-weight:700;-webkit-text-stroke:.25px #fff;transform:scaleX(0.9850)">Guanajuato</div>
<div class="t" style="left:389.39px;top:152.43px;color:#000;font-family:'Liberation Sans',sans-serif;font-size:15.2px;font-weight:700;-webkit-text-stroke:.35px #000;transform:scaleX(1.1148)">160,193</div>
<div class="t" style="left:96.68px;top:171.73px;color:#fff;font-family:'Liberation Sans',sans-serif;font-size:14.8px;font-weight:700;-webkit-text-stroke:.25px #fff;transform:scaleX(0.9245)">Jalisco</div>
<div class="t" style="left:356.71px;top:171.04px;color:#000;font-family:'Liberation Sans',sans-serif;font-size:15.2px;font-weight:700;-webkit-text-stroke:.35px #000;transform:scaleX(1.0907)">141,677</div>
<div class="t" style="left:86.53px;top:190.72px;color:#fff;font-family:'Liberation Sans',sans-serif;font-size:14.8px;font-weight:700;-webkit-text-stroke:.25px #fff;transform:scaleX(0.9719)">Tabasco</div>
<div class="t" style="left:339.98px;top:190.03px;color:#000;font-family:'Liberation Sans',sans-serif;font-size:15.2px;font-weight:700;-webkit-text-stroke:.35px #000;transform:scaleX(1.1222)">121,022</div>
<div class="t" style="left:95.92px;top:209.71px;color:#fff;font-family:'Liberation Sans',sans-serif;font-size:14.8px;font-weight:700;-webkit-text-stroke:.25px #fff;transform:scaleX(0.9787)">Puebla</div>
<div class="t" style="left:326.75px;top:209.02px;color:#000;font-family:'Liberation Sans',sans-serif;font-size:15.2px;font-weight:700;-webkit-text-stroke:.35px #000;transform:scaleX(1.1472)">110,886</div>
<div class="t" style="left:81.49px;top:228.70px;color:#fff;font-family:'Liberation Sans',sans-serif;font-size:14.8px;font-weight:700;-webkit-text-stroke:.25px #fff;transform:scaleX(1.0067)">Veracruz</div>
<div class="t" style="left:322.26px;top:228.01px;color:#000;font-family:'Liberation Sans',sans-serif;font-size:15.2px;font-weight:700;-webkit-text-stroke:.35px #000;transform:scaleX(1.1370)">109,561</div>
<div class="t" style="left:94.25px;top:247.69px;color:#fff;font-family:'Liberation Sans',sans-serif;font-size:14.8px;font-weight:700;-webkit-text-stroke:.25px #fff;transform:scaleX(0.9540)">Sonora</div>
<div class="t" style="left:320.03px;top:247.00px;color:#000;font-family:'Liberation Sans',sans-serif;font-size:15.2px;font-weight:700;-webkit-text-stroke:.35px #000;transform:scaleX(1.1685)">103,382</div>
<div class="t" style="left:37.35px;top:266.69px;color:#fff;font-family:'Liberation Sans',sans-serif;font-size:14.8px;font-weight:700;-webkit-text-stroke:.25px #fff;transform:scaleX(0.9509)">San Luis Potosí</div>
<div class="t" style="left:305.00px;top:265.99px;color:#000;font-family:'Liberation Sans',sans-serif;font-size:15.2px;font-weight:700;-webkit-text-stroke:.35px #000;transform:scaleX(1.2261)">93,508</div>
<div class="t" style="left:64.12px;top:285.68px;color:#fff;font-family:'Liberation Sans',sans-serif;font-size:14.8px;font-weight:700;-webkit-text-stroke:.25px #fff;transform:scaleX(0.9848)">Tamaulipas</div>
<div class="t" style="left:302.00px;top:284.98px;color:#000;font-family:'Liberation Sans',sans-serif;font-size:15.2px;font-weight:700;-webkit-text-stroke:.35px #000;transform:scaleX(1.1717)">90,061</div>
<div class="t" style="left:73.10px;top:304.67px;color:#fff;font-family:'Liberation Sans',sans-serif;font-size:14.8px;font-weight:700;-webkit-text-stroke:.25px #fff;transform:scaleX(0.9971)">Querétaro</div>
<div class="t" style="left:298.60px;top:303.97px;color:#000;font-family:'Liberation Sans',sans-serif;font-size:15.2px;font-weight:700;-webkit-text-stroke:.35px #000;transform:scaleX(1.2196)">88,099</div>
<div class="t" style="left:82.22px;top:323.66px;color:#fff;font-family:'Liberation Sans',sans-serif;font-size:14.8px;font-weight:700;-webkit-text-stroke:.25px #fff;transform:scaleX(0.9787)">Coahuila</div>
<div class="t" style="left:295.10px;top:322.96px;color:#000;font-family:'Liberation Sans',sans-serif;font-size:15.2px;font-weight:700;-webkit-text-stroke:.35px #000;transform:scaleX(1.2065)">84,453</div>
<div class="t" style="left:81.83px;top:342.65px;color:#fff;font-family:'Liberation Sans',sans-serif;font-size:14.8px;font-weight:700;-webkit-text-stroke:.25px #fff;transform:scaleX(0.9694)">Guerrero</div>
<div class="t" style="left:284.50px;top:341.95px;color:#000;font-family:'Liberation Sans',sans-serif;font-size:15.2px;font-weight:700;-webkit-text-stroke:.35px #000;transform:scaleX(1.1283)">71,446</div>
<div class="t" style="left:92.24px;top:361.65px;color:#fff;font-family:'Liberation Sans',sans-serif;font-size:14.8px;font-weight:700;-webkit-text-stroke:.25px #fff;transform:scaleX(0.9558)">Oaxaca</div>
<div class="t" style="left:286.20px;top:360.94px;color:#000;font-family:'Liberation Sans',sans-serif;font-size:15.2px;font-weight:700;-webkit-text-stroke:.35px #000;transform:scaleX(1.1761)">70,837</div>
<div class="t" style="left:92.24px;top:380.64px;color:#fff;font-family:'Liberation Sans',sans-serif;font-size:14.8px;font-weight:700;-webkit-text-stroke:.25px #fff;transform:scaleX(0.9558)">Sinaloa</div>
<div class="t" style="left:279.50px;top:379.93px;color:#000;font-family:'Liberation Sans',sans-serif;font-size:15.2px;font-weight:700;-webkit-text-stroke:.35px #000;transform:scaleX(1.2109)">69,262</div>
<div class="t" style="left:68.83px;top:399.63px;color:#fff;font-family:'Liberation Sans',sans-serif;font-size:14.8px;font-weight:700;-webkit-text-stroke:.25px #fff;transform:scaleX(0.9747)">Michoacán</div>
<div class="t" style="left:278.30px;top:398.92px;color:#000;font-family:'Liberation Sans',sans-serif;font-size:15.2px;font-weight:700;-webkit-text-stroke:.35px #000;transform:scaleX(1.1652)">66,951</div>
<div class="t" style="left:86.49px;top:418.62px;color:#fff;font-family:'Liberation Sans',sans-serif;font-size:14.8px;font-weight:700;-webkit-text-stroke:.25px #fff;transform:scaleX(1.0073)">Yucatán</div>
<div class="t" style="left:274.10px;top:418.23px;color:#000;font-family:'Liberation Sans',sans-serif;font-size:15.2px;font-weight:700;-webkit-text-stroke:.35px #000;transform:scaleX(1.1609)">64,291</div>
<div class="t" style="left:68.12px;top:437.61px;color:#fff;font-family:'Liberation Sans',sans-serif;font-size:14.8px;font-weight:700;-webkit-text-stroke:.25px #fff;transform:scaleX(0.9840)">Chihuahua</div>
<div class="t" style="left:274.10px;top:436.43px;color:#000;font-family:'Liberation Sans',sans-serif;font-size:15.2px;font-weight:700;-webkit-text-stroke:.35px #000;transform:scaleX(1.2174)">63,580</div>
<div class="t" style="left:42.03px;top:456.61px;color:#fff;font-family:'Liberation Sans',sans-serif;font-size:14.8px;font-weight:700;-webkit-text-stroke:.25px #fff;transform:scaleX(0.9699)">Baja California</div>
<div class="t" style="left:267.90px;top:456.03px;color:#000;font-family:'Liberation Sans',sans-serif;font-size:15.2px;font-weight:700;-webkit-text-stroke:.35px #000;transform:scaleX(1.1739)">57,803</div>
<div class="t" style="left:89.92px;top:475.60px;color:#fff;font-family:'Liberation Sans',sans-serif;font-size:14.8px;font-weight:700;-webkit-text-stroke:.25px #fff;transform:scaleX(0.9811)">Hidalgo</div>
<div class="t" style="left:263.70px;top:474.88px;color:#000;font-family:'Liberation Sans',sans-serif;font-size:15.2px;font-weight:700;-webkit-text-stroke:.35px #000;transform:scaleX(1.2000)">56,789</div>
<div class="t" style="left:48.42px;top:494.59px;color:#fff;font-family:'Liberation Sans',sans-serif;font-size:14.8px;font-weight:700;-webkit-text-stroke:.25px #fff;transform:scaleX(0.9842)">Quintana Roo</div>
<div class="t" style="left:260.80px;top:493.87px;color:#000;font-family:'Liberation Sans',sans-serif;font-size:15.2px;font-weight:700;-webkit-text-stroke:.35px #000;transform:scaleX(1.1913)">55,789</div>
<div class="t" style="left:14.23px;top:513.58px;color:#fff;font-family:'Liberation Sans',sans-serif;font-size:14.8px;font-weight:700;-webkit-text-stroke:.25px #fff;transform:scaleX(0.9748)">Baja California Sur</div>
<div class="t" style="left:260.80px;top:512.86px;color:#000;font-family:'Liberation Sans',sans-serif;font-size:15.2px;font-weight:700;-webkit-text-stroke:.35px #000;transform:scaleX(1.2152)">54,208</div>
<div class="t" style="left:83.21px;top:532.57px;color:#fff;font-family:'Liberation Sans',sans-serif;font-size:14.8px;font-weight:700;-webkit-text-stroke:.25px #fff;transform:scaleX(0.9949)">Durango</div>
<div class="t" style="left:242.90px;top:531.85px;color:#000;font-family:'Liberation Sans',sans-serif;font-size:15.2px;font-weight:700;-webkit-text-stroke:.35px #000;transform:scaleX(1.1609)">45,351</div>
<div class="t" style="left:88.22px;top:551.57px;color:#fff;font-family:'Liberation Sans',sans-serif;font-size:14.8px;font-weight:700;-webkit-text-stroke:.25px #fff;transform:scaleX(0.9764)">Morelos</div>
<div class="t" style="left:236.70px;top:550.84px;color:#000;font-family:'Liberation Sans',sans-serif;font-size:15.2px;font-weight:700;-webkit-text-stroke:.35px #000;transform:scaleX(1.2196)">43,860</div>
<div class="t" style="left:74.50px;top:570.56px;color:#111;font-family:'Liberation Sans',sans-serif;font-size:14.8px;font-weight:700;-webkit-text-stroke:.25px #111;transform:scaleX(0.9634)">Zacatecas</div>
<div class="t" style="left:232.60px;top:569.83px;color:#000;font-family:'Liberation Sans',sans-serif;font-size:15.2px;font-weight:700;-webkit-text-stroke:.35px #000;transform:scaleX(1.0804)">39,211</div>
<div class="t" style="left:38.80px;top:589.55px;color:#111;font-family:'Liberation Sans',sans-serif;font-size:14.8px;font-weight:700;-webkit-text-stroke:.25px #111;transform:scaleX(0.9639)">Aguascalientes</div>
<div class="t" style="left:217.50px;top:588.82px;color:#000;font-family:'Liberation Sans',sans-serif;font-size:15.2px;font-weight:700;-webkit-text-stroke:.35px #000;transform:scaleX(1.1457)">31,965</div>
<div class="t" style="left:93.21px;top:608.54px;color:#111;font-family:'Liberation Sans',sans-serif;font-size:14.8px;font-weight:700;-webkit-text-stroke:.25px #111;transform:scaleX(0.9939)">Nayarit</div>
<div class="t" style="left:210.60px;top:607.81px;color:#000;font-family:'Liberation Sans',sans-serif;font-size:15.2px;font-weight:700;-webkit-text-stroke:.35px #000;transform:scaleX(1.1870)">30,752</div>
<div class="t" style="left:95.25px;top:627.53px;color:#111;font-family:'Liberation Sans',sans-serif;font-size:14.8px;font-weight:700;-webkit-text-stroke:.25px #111;transform:scaleX(0.9531)">Colima</div>
<div class="t" style="left:204.10px;top:626.80px;color:#000;font-family:'Liberation Sans',sans-serif;font-size:15.2px;font-weight:700;-webkit-text-stroke:.35px #000;transform:scaleX(1.1283)">28,187</div>
<div class="t" style="left:87.80px;top:646.53px;color:#111;font-family:'Liberation Sans',sans-serif;font-size:14.8px;font-weight:700;-webkit-text-stroke:.25px #111;transform:scaleX(0.9339)">Tlaxcala</div>
<div class="t" style="left:200.90px;top:645.79px;color:#000;font-family:'Liberation Sans',sans-serif;font-size:15.2px;font-weight:700;-webkit-text-stroke:.35px #000;transform:scaleX(1.2152)">26,495</div>
<div class="t" style="left:70.22px;top:665.52px;color:#111;font-family:'Liberation Sans',sans-serif;font-size:14.8px;font-weight:700;-webkit-text-stroke:.25px #111;transform:scaleX(0.9822)">Campeche</div>
<div class="t" style="left:197.00px;top:664.78px;color:#000;font-family:'Liberation Sans',sans-serif;font-size:15.2px;font-weight:700;-webkit-text-stroke:.35px #000;transform:scaleX(1.2065)">20,997</div>
<div class="t" style="left:87.53px;top:684.51px;color:#111;font-family:'Liberation Sans',sans-serif;font-size:14.8px;font-weight:700;-webkit-text-stroke:.25px #111;transform:scaleX(0.9714)">Chiapas</div>
<div class="t" style="left:195.90px;top:683.77px;color:#000;font-family:'Liberation Sans',sans-serif;font-size:15.2px;font-weight:700;-webkit-text-stroke:.35px #000;transform:scaleX(1.2217)">20,569</div>
<div class="t" style="left:23.21px;top:24.56px;color:#333;font-family:'Liberation Sans',sans-serif;font-size:34.3px;font-weight:400;-webkit-text-stroke:.9px #333;transform:scaleX(1.0437)">BALANCE EN</div>
<div class="t" style="left:260.60px;top:24.58px;color:#2b2b2b;font-family:'Liberation Sans',sans-serif;font-size:33.8px;font-weight:700;-webkit-text-stroke:1.3px #2b2b2b;transform:scaleX(1.0992)">MÉXICO</div>
<div class="t" style="left:429.35px;top:30.53px;color:#fff;font-family:'Liberation Sans',sans-serif;font-size:23px;font-weight:700;transform:scaleX(0.9498)">CONTAGIOS POR ESTADO</div>
<div class="t" style="left:1175.30px;top:21.09px;color:#d33030;font-family:'Liberation Sans',sans-serif;font-size:4.5px;font-weight:700;transform:scaleX(0.9000)">R</div>
<div class="t" style="left:1029.94px;top:195.14px;color:#ffde00;font-family:'Liberation Sans',sans-serif;font-size:14.6px;font-weight:700;-webkit-text-stroke:.3px #ffde00;transform:scaleX(1.0558)">NÚMEROS POR DÍA</div>
<div class="t" style="left:1062.52px;top:224.69px;color:#fff;font-family:'Liberation Sans',sans-serif;font-size:15.6px;font-weight:700;transform:scaleX(1.0840)">Casos totales</div>
<div class="t" style="left:1040.87px;top:248.89px;color:#fff;font-family:'Liberation Sans',sans-serif;font-size:28.0px;font-weight:700;-webkit-text-stroke:.7px #fff;transform:scaleX(1.1311)">3,465,171</div>
<div class="t" style="left:1058.92px;top:297.99px;color:#fff;font-family:'Liberation Sans',sans-serif;font-size:15.6px;font-weight:700;transform:scaleX(1.0769)">Casos nuevos</div>
<div class="t" style="left:1073.89px;top:319.79px;color:#fff;font-family:'Liberation Sans',sans-serif;font-size:30.6px;font-weight:700;-webkit-text-stroke:.8px #fff;transform:scaleX(1.1533)">15,876</div>
<div class="t" style="left:1032.79px;top:367.54px;color:#555;font-family:'Liberation Sans',sans-serif;font-size:16.6px;font-weight:700;-webkit-text-stroke:.25px #555;transform:scaleX(1.0102)">Número de casos</div>
<div class="t" style="left:1089.30px;top:396.69px;color:#555;font-family:'Liberation Sans',sans-serif;font-size:12.0px;font-weight:700;-webkit-text-stroke:.25px #555;transform:scaleX(1.1426)">0-19,999</div>
<div class="t" style="left:1092.60px;top:419.99px;color:#555;font-family:'Liberation Sans',sans-serif;font-size:12.0px;font-weight:700;-webkit-text-stroke:.25px #555;transform:scaleX(1.1721)">20,000+</div>
<div class="t" style="left:1092.60px;top:443.29px;color:#555;font-family:'Liberation Sans',sans-serif;font-size:12.0px;font-weight:700;-webkit-text-stroke:.25px #555;transform:scaleX(1.1721)">40,000+</div>
<div class="t" style="left:1092.60px;top:466.59px;color:#555;font-family:'Liberation Sans',sans-serif;font-size:12.0px;font-weight:700;-webkit-text-stroke:.25px #555;transform:scaleX(1.1721)">60,000+</div>
<div class="t" style="left:1092.60px;top:489.89px;color:#555;font-family:'Liberation Sans',sans-serif;font-size:12.0px;font-weight:700;-webkit-text-stroke:.25px #555;transform:scaleX(1.1721)">80,000+</div>
<div class="t" style="left:1085.14px;top:513.19px;color:#555;font-family:'Liberation Sans',sans-serif;font-size:12.0px;font-weight:700;-webkit-text-stroke:.25px #555;transform:scaleX(1.1571)">100,000+</div>
<div class="t" style="left:1083.60px;top:536.49px;color:#555;font-family:'Liberation Sans',sans-serif;font-size:12.0px;font-weight:700;-webkit-text-stroke:.25px #555;transform:scaleX(1.1880)">200,000+</div>
<div class="t" style="left:1063.19px;top:570.02px;color:#1a1a1a;font-family:'Liberation Sans',sans-serif;font-size:13.8px;font-weight:400;-webkit-text-stroke:.15px #1a1a1a;transform:scaleX(0.9091)">Cifras hasta el corte</div>
<div class="t" style="left:1069.78px;top:586.70px;color:#1a1a1a;font-family:'Liberation Sans',sans-serif;font-size:13.8px;font-weight:400;-webkit-text-stroke:.15px #1a1a1a;transform:scaleX(0.9232)">más reciente de la</div>
<div class="t" style="left:1064.50px;top:603.38px;color:#1a1a1a;font-family:'Liberation Sans',sans-serif;font-size:13.8px;font-weight:400;-webkit-text-stroke:.15px #1a1a1a;transform:scaleX(0.9024)">Secretaría de Salud,</div>
<div class="t" style="left:1062.40px;top:620.06px;color:#1a1a1a;font-family:'Liberation Sans',sans-serif;font-size:13.8px;font-weight:400;-webkit-text-stroke:.15px #1a1a1a;transform:scaleX(0.9048)">del <b>8 de septiembre</b></div>
<div class="t" style="left:1080.41px;top:636.74px;color:#1a1a1a;font-family:'Liberation Sans',sans-serif;font-size:13.8px;font-weight:400;-webkit-text-stroke:.15px #1a1a1a;transform:scaleX(0.8889)">a las 18:00 horas.</div>
</body>
</html>
